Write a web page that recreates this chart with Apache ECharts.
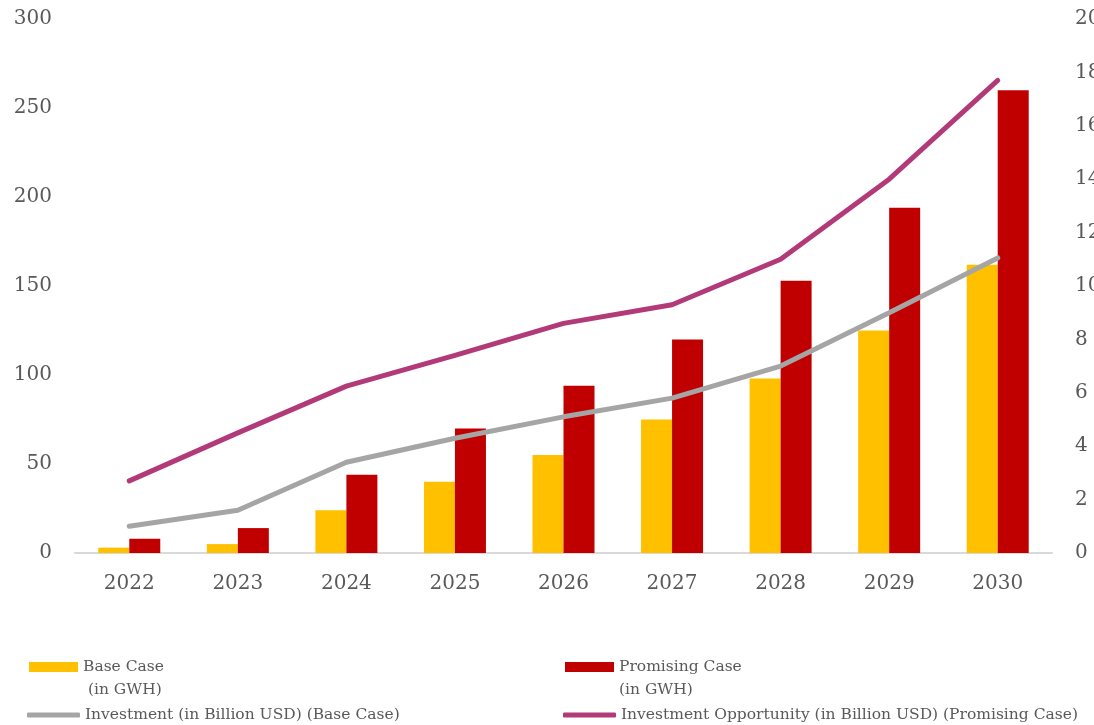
<!DOCTYPE html>
<html>
<head>
<meta charset="utf-8">
<script src="https://cdn.jsdelivr.net/npm/echarts@6/dist/echarts.min.js"></script>
<style>html,body{margin:0;padding:0;background:#fff;overflow:hidden;}#c{width:1094px;height:725px;}</style>
</head>
<body>
<div id="c"></div>
<script>
const years = ['2022','2023','2024','2025','2026','2027','2028','2029','2030'];
const baseCase = [3, 5, 24, 40, 55, 75, 98, 125, 162];
const promisingCase = [8, 14, 44, 70, 94, 120, 153, 194, 260];
const investBase = [1.0, 1.6, 3.4, 4.3, 5.1, 5.8, 7.0, 9.0, 11.05];
const investPromising = [2.7, 4.5, 6.25, 7.4, 8.6, 9.3, 11.0, 14.0, 17.7];
const leftTicks = [0, 300, 50];
const rightTicks = [0, 20, 2];

const FONT = 'DejaVu Serif';
const TXT = '#595959';
const names = ['Base Case\n (in GWH)', 'Promising Case\n(in GWH)', 'Investment (in Billion USD) (Base Case)', 'Investment Opportunity (in Billion USD) (Promising Case)'];
const colors = ['#FFC000', '#C00000', '#A5A5A5', '#B23A78'];

const chart = echarts.init(document.getElementById('c'), null, {renderer: 'canvas'});

function legend(i, left, top, isLine) {
  return {
    show: true, left: left, top: top, padding: 0, orient: 'horizontal',
    data: [{name: names[i], icon: isLine ? 'roundRect' : 'rect'}],
    itemWidth: isLine ? 53 : 49, itemHeight: isLine ? 5 : 10, itemGap: 4,
    selectedMode: false,
    formatter: isLine ? '{name}' : function (n) { return ' \n' + n; },
    textStyle: {fontFamily: FONT, fontSize: 15.5, color: TXT, lineHeight: 23}
  };
}

chart.setOption({
  animation: false,
  backgroundColor: '#fff',
  grid: {left: 75, right: 42, top: 19, bottom: 172, containLabel: false, outerBoundsMode: 'none'},
  legend: [
    legend(0, 29, 632.5, false),
    legend(1, 565, 632.5, false),
    legend(2, 27, 703.5, true),
    legend(3, 563, 703.5, true)
  ],
  xAxis: {
    type: 'category', data: years,
    axisLine: {show: true, lineStyle: {color: '#D9D9D9', width: 2}},
    axisTick: {show: false},
    axisLabel: {fontFamily: FONT, fontSize: 20, color: TXT, margin: 21}
  },
  yAxis: [
    {
      type: 'value', min: leftTicks[0], max: leftTicks[1], interval: leftTicks[2],
      axisLine: {show: false}, axisTick: {show: false}, splitLine: {show: false},
      axisLabel: {fontFamily: FONT, fontSize: 20, color: TXT, margin: 23}
    },
    {
      type: 'value', min: rightTicks[0], max: rightTicks[1], interval: rightTicks[2], position: 'right',
      axisLine: {show: false}, axisTick: {show: false}, splitLine: {show: false},
      axisLabel: {fontFamily: FONT, fontSize: 20, color: TXT, margin: 23}
    }
  ],
  series: [
    {name: names[0], type: 'bar', data: baseCase, barWidth: 31, barGap: '0%', itemStyle: {color: colors[0]}},
    {name: names[1], type: 'bar', data: promisingCase, barWidth: 31, barGap: '0%', itemStyle: {color: colors[1]}},
    {name: names[2], type: 'line', yAxisIndex: 1, data: investBase, symbol: 'none', lineStyle: {color: colors[2], width: 5, cap: 'round'}, itemStyle: {color: colors[2]}},
    {name: names[3], type: 'line', yAxisIndex: 1, data: investPromising, symbol: 'none', lineStyle: {color: colors[3], width: 5, cap: 'round'}, itemStyle: {color: colors[3]}}
  ]
});
</script>
</body>
</html>
